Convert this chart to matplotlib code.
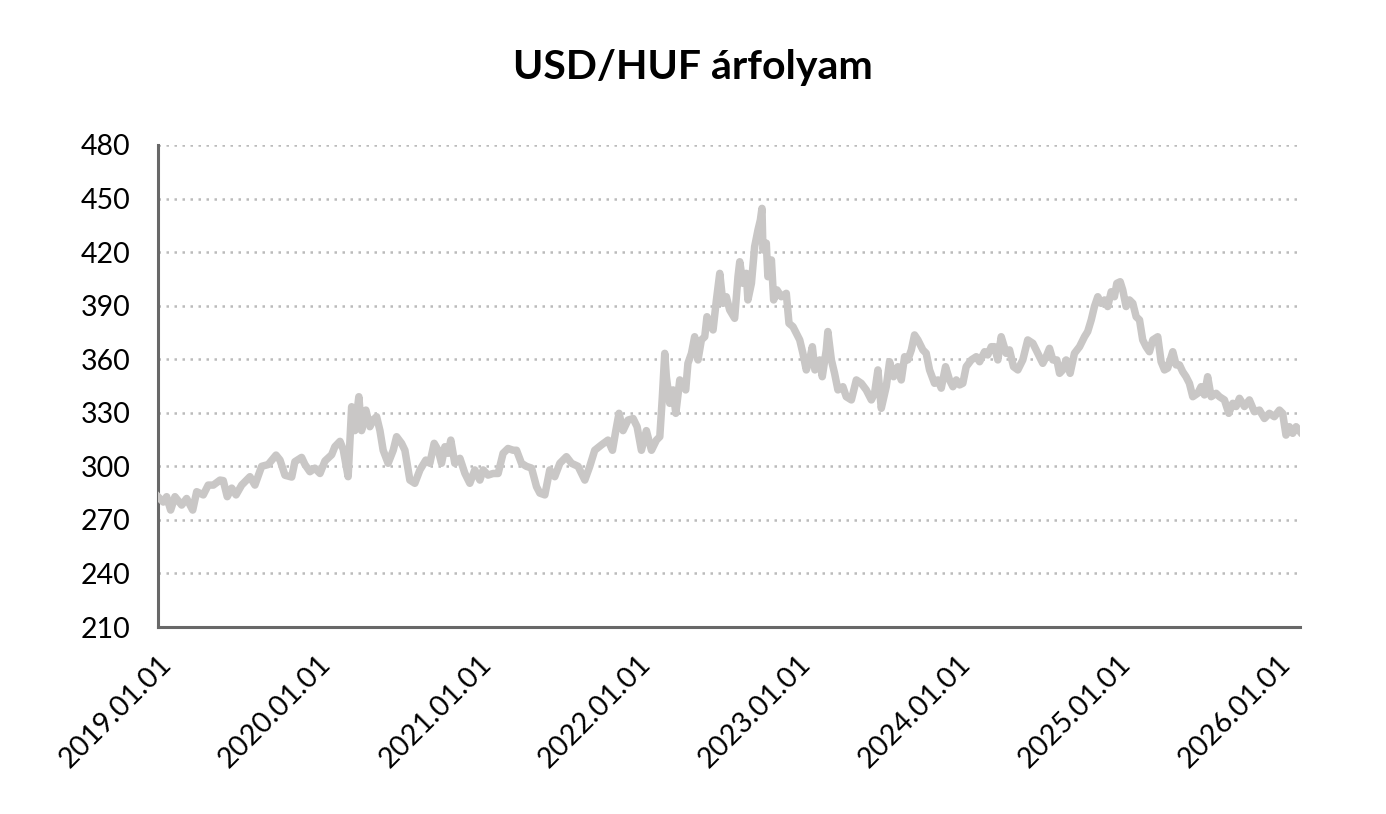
import matplotlib
matplotlib.use("Agg")
import matplotlib.pyplot as plt
import matplotlib.dates as mdates
import numpy as np
import pandas as pd

plt.rcParams['font.family'] = ['Lato', 'DejaVu Sans']

# years elapsed since 2019.01.01
t_years = [
    0, 0.033, 0.054, 0.079, 0.106, 0.148, 0.179, 0.217, 0.242, 0.283, 0.314, 0.346,
    0.388, 0.408, 0.433, 0.461, 0.488, 0.523, 0.575, 0.606, 0.648, 0.689, 0.738, 0.763,
    0.794, 0.836, 0.856, 0.898, 0.919, 0.950, 0.981, 1.013, 1.044, 1.086, 1.106, 1.138,
    1.158, 1.189, 1.211, 1.231, 1.256, 1.273, 1.300, 1.325, 1.346, 1.367, 1.388, 1.408,
    1.439, 1.471, 1.492, 1.523, 1.544, 1.575, 1.606, 1.638, 1.675, 1.700, 1.727, 1.752,
    1.773, 1.794, 1.814, 1.831, 1.856, 1.888, 1.919, 1.950, 1.981, 2.013, 2.033, 2.064,
    2.096, 2.127, 2.158, 2.189, 2.221, 2.242, 2.273, 2.304, 2.336, 2.367, 2.388, 2.419,
    2.450, 2.481, 2.513, 2.554, 2.586, 2.627, 2.669, 2.700, 2.731, 2.773, 2.814, 2.842,
    2.863, 2.883, 2.908, 2.939, 2.971, 2.996, 3.023, 3.054, 3.086, 3.117, 3.138, 3.154,
    3.169, 3.179, 3.200, 3.221, 3.238, 3.263, 3.283, 3.300, 3.314, 3.336, 3.356, 3.377,
    3.398, 3.419, 3.433, 3.450, 3.471, 3.492, 3.513, 3.533, 3.554, 3.575, 3.606, 3.627,
    3.638, 3.658, 3.679, 3.689, 3.711, 3.731, 3.752, 3.767, 3.777, 3.783, 3.804, 3.814,
    3.836, 3.850, 3.871, 3.898, 3.929, 3.946, 3.971, 3.992, 4.013, 4.033, 4.054, 4.075,
    4.092, 4.108, 4.138, 4.154, 4.179, 4.189, 4.211, 4.231, 4.252, 4.283, 4.304, 4.336,
    4.367, 4.398, 4.429, 4.461, 4.481, 4.502, 4.523, 4.554, 4.575, 4.600, 4.627, 4.648,
    4.669, 4.689, 4.711, 4.731, 4.752, 4.783, 4.804, 4.825, 4.856, 4.877, 4.898, 4.925,
    4.950, 4.971, 4.992, 5.013, 5.033, 5.054, 5.086, 5.117, 5.138, 5.169, 5.189, 5.211,
    5.231, 5.252, 5.273, 5.304, 5.325, 5.350, 5.377, 5.408, 5.439, 5.471, 5.502, 5.533,
    5.554, 5.575, 5.596, 5.621, 5.638, 5.658, 5.679, 5.704, 5.731, 5.763, 5.794, 5.814,
    5.836, 5.856, 5.877, 5.898, 5.919, 5.939, 5.961, 5.981, 5.996, 6.017, 6.033, 6.054,
    6.075, 6.096, 6.117, 6.138, 6.158, 6.179, 6.200, 6.221, 6.252, 6.273, 6.294, 6.314,
    6.346, 6.367, 6.388, 6.408, 6.429, 6.450, 6.471, 6.502, 6.523, 6.544, 6.564, 6.586,
    6.617, 6.638, 6.669, 6.696, 6.721, 6.742, 6.763, 6.794, 6.825, 6.856, 6.888, 6.919,
    6.950, 6.981, 7.013, 7.033, 7.054, 7.075, 7.096, 7.117, 7.142,
]

usd_huf = [
    283, 280, 283, 275.5, 283, 278.3, 282, 275.5, 285.8, 284, 289.5, 289.5,
    292.3, 292, 283, 287.8, 284, 289.5, 294.2, 289.5, 300, 301, 306.3, 303.5,
    295, 294, 302.6, 305, 301, 297, 299, 296, 303, 306.5, 311, 314,
    309.5, 294.2, 333.4, 320, 339, 320, 331.5, 322.2, 326, 327.8, 320, 309,
    301.7, 309, 316.6, 312.9, 309, 292.3, 290.5, 298, 303.5, 301.7, 312.9, 309,
    301.7, 311, 307.3, 314.7, 301.7, 304.5, 296.1, 290.5, 298, 292.3, 298, 295.1,
    296, 296, 307.3, 310, 309, 309, 301.7, 300, 299, 288.6, 285, 284,
    298, 294.2, 301.7, 305.4, 301.7, 300, 292.3, 300, 309, 312, 314.7, 309,
    320, 329.7, 320, 325.9, 326.8, 322.2, 309, 320, 309, 314.7, 316.6, 339,
    363.3, 350.2, 335.3, 342.8, 329.7, 348.4, 346.5, 342.8, 357.7, 363.3, 372.6, 359.6,
    370.8, 372.6, 383.8, 380, 376.4, 393.2, 408.1, 391.3, 395, 387.6, 382.9, 406.2,
    414.6, 402.5, 408.1, 393.2, 402.5, 423, 432.4, 438, 444.5, 421.2, 425, 406.2,
    415.6, 393.2, 398.8, 395, 396.9, 380.1, 378.2, 374.5, 370.8, 363.3, 354, 359.6,
    367, 354, 359.6, 350.2, 365.2, 375.5, 359.6, 352.1, 342.8, 344.6, 339, 337.2,
    348.4, 346.5, 342.8, 337.2, 340.9, 354, 332.5, 344.6, 358.6, 350.2, 355.8, 348.4,
    361.4, 359.6, 365.2, 373.6, 370.8, 365.2, 363.3, 354, 346.5, 348.4, 343.8, 355.8,
    348.4, 344.6, 348.4, 345.6, 346.5, 355.8, 359.6, 361.4, 358.6, 364.2, 362.4, 367,
    367, 359.6, 372.6, 363.3, 365.2, 355.8, 354, 359.6, 370.8, 368.9, 363.3, 357.7,
    361.4, 366.1, 359.6, 359.6, 352.1, 354, 359.6, 352.1, 363.3, 367, 372.6, 375.5,
    382, 389.5, 395, 391.3, 393.2, 389.5, 397.8, 395, 402.5, 403.4, 398.8, 389.5,
    393.2, 391.3, 383.8, 382, 370.8, 367, 364.2, 370.8, 372.6, 358.6, 354, 355,
    364.2, 356.8, 356.8, 353, 350.2, 346.5, 339, 340.9, 344.6, 340, 350.2, 339,
    340.9, 339, 337.2, 329.7, 335.3, 333.5, 338.1, 333.5, 337.2, 330.6, 331.5, 326.8,
    329.7, 327.8, 331.5, 329.7, 317.5, 322.2, 318.5, 322.2, 319.4,
]

tick_years = [2019, 2020, 2021, 2022, 2023, 2024, 2025, 2026]
y_ticks = [210, 240, 270, 300, 330, 360, 390, 420, 450, 480]

start = pd.Timestamp("2019-01-01")
dates = start + pd.to_timedelta(np.array(t_years) * 365.25, unit="D")

fig = plt.figure(figsize=(13.86, 8.14), dpi=100)
ax = fig.add_axes([0.114, 0.2297, 0.824, 0.5922])

ax.plot(dates, usd_huf, color="#C9C7C6", lw=5.4, solid_joinstyle="round", zorder=3)

ax.set_ylim(210, 480)
ax.set_yticks(y_ticks)
ax.set_xlim(start, start + pd.to_timedelta(7.142 * 365.25, unit="D"))
ax.set_xticks([pd.Timestamp(f"{y}-01-01") for y in tick_years])
ax.xaxis.set_major_formatter(mdates.DateFormatter("%Y.%m.%d"))

ax.grid(axis="y", linestyle=(0, (1, 2.2)), color="#BBBBBB", lw=1.8)
ax.set_axisbelow(True)
for s in ["top", "right"]:
    ax.spines[s].set_visible(False)
for s in ["left", "bottom"]:
    ax.spines[s].set_color("#686868")
    ax.spines[s].set_linewidth(2.2)

ax.tick_params(length=0, labelsize=20.5, colors="#000000")
ax.tick_params(axis="y", pad=20)
ax.tick_params(axis="x", pad=17)
plt.setp(ax.get_xticklabels(), rotation=45, ha="right", rotation_mode="anchor")

fig.suptitle("USD/HUF árfolyam", fontsize=29.5, fontweight="bold", x=0.5, y=0.94)

fig.savefig("out.png", dpi=100)
